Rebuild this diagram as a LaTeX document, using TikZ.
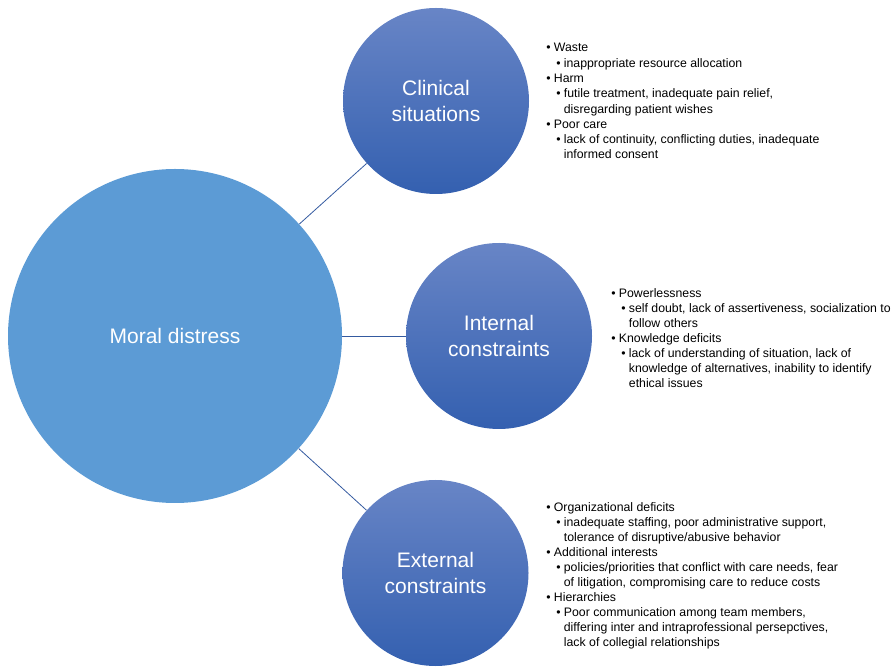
\documentclass[tikz,border=0pt]{standalone}
\usepackage{fontspec}
\setmainfont{Liberation Sans}
\usepackage[dvipsnames]{xcolor}

\definecolor{bigblue}{RGB}{92,155,213}
\definecolor{topblue}{RGB}{104,133,198}
\definecolor{botblue}{RGB}{52,96,176}
\definecolor{linkblue}{RGB}{52,90,160}

\newcommand{\bA}{\makebox[7.5pt][l]{•}}
\newcommand{\bB}{\hspace*{10pt}\makebox[7.5pt][l]{•}}
\newcommand{\bC}{\hspace*{17.5pt}}

\begin{document}
\begin{tikzpicture}[x=1pt,y=1pt,-,thick,
  main node/.style={circle,draw=none,inner sep=0pt,text=white,align=center,
    font=\fontsize{21}{26.5}\selectfont},
  sub node/.style={main node,minimum size=186pt,top color=topblue,bottom color=botblue},
  list node/.style={anchor=north west,inner sep=0pt,align=left,
    font=\fontsize{12.3}{15.3}\selectfont},
  tight list/.style={list node,font=\fontsize{12.3}{15}\selectfont},
  link/.style={draw=linkblue,line width=0.8pt}]

            \useasboundingbox (0,0) rectangle (893,666);

            \node[main node,fill=bigblue,minimum size=334pt] (1) at (175,330) {Moral distress};
            \node[sub node] (2) at (436,565) {Clinical\\situations};
            \node[sub node] (3) at (499,330) {Internal\\constraints};
            \node[sub node] (4) at (435.5,93) {External\\constraints};

            \draw[link] (1) to (2);
            \draw[link] (1) to (3);
            \draw[link] (1) to (4);

            \node[list node] (5) at (546,623) {\bA Waste\\
              \bB inappropriate resource allocation\\
              \bA Harm\\
              \bB futile treatment, inadequate pain relief,\\
              \bC disregarding patient wishes\\
              \bA Poor care\\
              \bB lack of continuity, conflicting duties, inadequate\\
              \bC informed consent};

            \node[tight list] (6) at (611,378) {\bA Powerlessness\\
              \bB self doubt, lack of assertiveness, socialization to\\
              \bC follow others\\
              \bA Knowledge deficits\\
              \bB lack of understanding of situation, lack of\\
              \bC knowledge of alternatives, inability to identify\\
              \bC ethical issues};

            \node[tight list] (7) at (546,164) {\bA Organizational deficits\\
              \bB inadequate staffing, poor administrative support,\\
              \bC tolerance of disruptive/abusive behavior\\
              \bA Additional interests\\
              \bB policies/priorities that conflict with care needs, fear\\
              \bC of litigation, compromising care to reduce costs\\
              \bA Hierarchies\\
              \bB Poor communication among team members,\\
              \bC differing inter and intraprofessional persepctives,\\
              \bC lack of collegial relationships};

        \end{tikzpicture}
\end{document}
